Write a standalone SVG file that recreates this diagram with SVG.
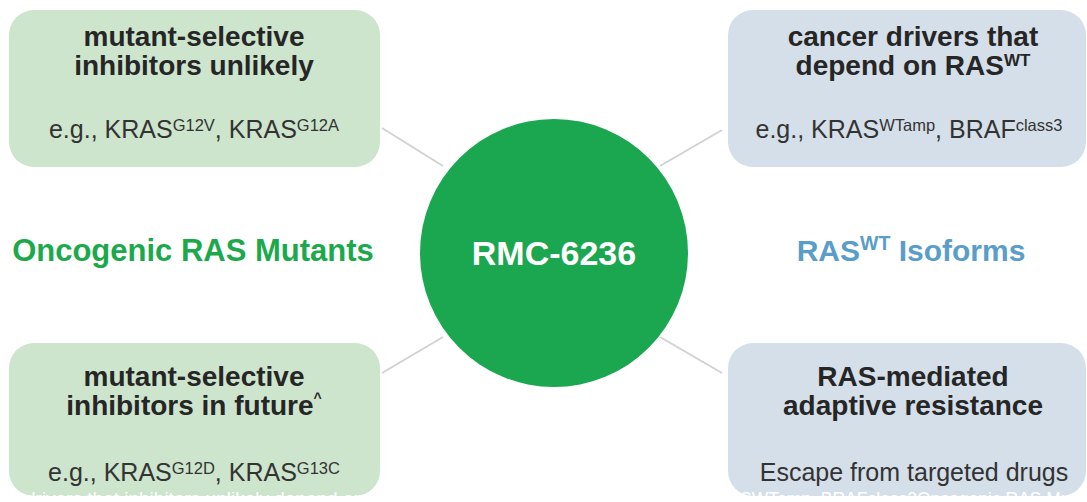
<svg xmlns="http://www.w3.org/2000/svg" width="1087" height="502" viewBox="0 0 1087 502">
  <style>
    text { font-family: "Liberation Sans", Arial, sans-serif; }
    .green { fill: #cde5cc; }
    .blue { fill: #d5dfe9; }
    .title { font-size: 28px; font-weight: bold; fill: #262626; text-anchor: middle; }
    .eg { font-size: 25px; fill: #333333; text-anchor: middle; }
    .sup { font-size: 16.5px; }
    .conn { stroke: #d2d2d2; stroke-width: 2; fill: none; }
    .ghost { fill: #ffffff; }
  </style>
  <rect width="1087" height="502" fill="#ffffff"/>
  <g id="connectors">
    <line class="conn" x1="382" y1="128" x2="443" y2="166"/>
    <line class="conn" x1="660" y1="166" x2="722" y2="130"/>
    <line class="conn" x1="382" y1="373" x2="443" y2="337"/>
    <line class="conn" x1="660" y1="337" x2="722" y2="373"/>
  </g>
  <g id="node-top-left">
    <rect class="green" x="9" y="10" width="371" height="157" rx="25"/>
    <text class="title" x="194" y="46">mutant-selective</text>
    <text class="title" x="194" y="75">inhibitors unlikely</text>
    <text class="eg" x="194" y="138">e.g., KRAS<tspan class="sup" dy="-7">G12V</tspan><tspan dy="7">, KRAS</tspan><tspan class="sup" dy="-7">G12A</tspan></text>
  </g>
  <g id="node-top-right">
    <rect class="blue" x="728" y="10" width="358" height="157" rx="25"/>
    <text class="title" x="913" y="46">cancer drivers that</text>
    <text class="title" x="913" y="75">depend on RAS<tspan font-size="17" dy="-9">WT</tspan></text>
    <text class="eg" x="909" y="138">e.g., KRAS<tspan class="sup" font-size="18" dy="-7">WTamp</tspan><tspan dy="7">, BRAF</tspan><tspan class="sup" font-size="18" dy="-7">class3</tspan></text>
  </g>
  <g id="node-bottom-left">
    <rect class="green" x="9" y="343" width="371" height="153" rx="25"/>
    <text class="title" x="194" y="386">mutant-selective</text>
    <text class="title" x="194" y="415">inhibitors in future<tspan font-size="14" dy="-12">^</tspan></text>
    <text class="eg" x="194" y="481">e.g., KRAS<tspan class="sup" dy="-7">G12D</tspan><tspan dy="7">, KRAS</tspan><tspan class="sup" dy="-7">G13C</tspan></text>
  </g>
  <g id="node-bottom-right">
    <rect class="blue" x="728" y="343" width="358" height="153" rx="25"/>
    <text class="title" x="913" y="386">RAS-mediated</text>
    <text class="title" x="913" y="415">adaptive resistance</text>
    <text class="eg" x="914" y="481">Escape from targeted drugs</text>
  </g>
  <g id="label-left">
    <text x="193" y="261" font-size="31" font-weight="bold" fill="#1ba94c" text-anchor="middle">Oncogenic RAS Mutants</text>
  </g>
  <g id="label-right">
    <text x="911" y="261" font-size="30" font-weight="bold" fill="#5a9dc8" text-anchor="middle">RAS<tspan font-size="19.5" dy="-11">WT</tspan><tspan dy="11"> Isoforms</tspan></text>
  </g>
  <g id="node-center">
    <circle cx="554" cy="253" r="134" fill="#1ba650"/>
    <text x="554" y="265" font-size="34" font-weight="bold" fill="#ffffff" text-anchor="middle">RMC-6236</text>
  </g>
  <g id="overflow-text">
    <text class="ghost" x="25" y="505" font-size="19">drivers that inhibitors unlikely depend on RA</text>
    <text class="ghost" x="740" y="505" font-size="17.5">SWTamp, BRAFclass3Oncogenic RAS Mutants</text>
  </g>
</svg>
